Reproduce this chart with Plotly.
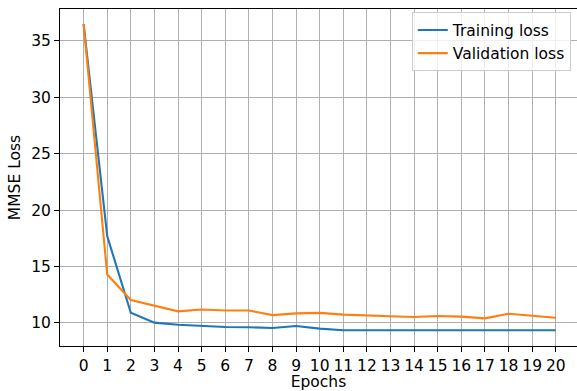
import plotly.graph_objects as go

epochs = list(range(21))
training_loss = [36.5, 17.7, 10.9, 10.03, 9.85, 9.73, 9.65, 9.62, 9.56, 9.73, 9.5,
                 9.35, 9.35, 9.35, 9.35, 9.35, 9.35, 9.35, 9.35, 9.35, 9.35]
validation_loss = [36.5, 14.3, 12.04, 11.56, 11.03, 11.2, 11.1, 11.1, 10.7, 10.85, 10.9,
                   10.74, 10.7, 10.6, 10.53, 10.62, 10.56, 10.41, 10.82, 10.62, 10.47]
y_ticks = [10, 15, 20, 25, 30, 35]

fig = go.Figure()
fig.add_trace(go.Scatter(x=epochs, y=training_loss, mode="lines", name="Training loss",
                         line=dict(color="#1f77b4", width=2.1)))
fig.add_trace(go.Scatter(x=epochs, y=validation_loss, mode="lines", name="Validation loss",
                         line=dict(color="#ff7f0e", width=2.1)))

font = dict(family="DejaVu Sans", size=15.5, color="black")
fig.update_layout(
    width=577, height=391,
    margin=dict(l=60, r=0, t=9, b=45, autoexpand=False),
    paper_bgcolor="white", plot_bgcolor="white",
    font=font,
    showlegend=True,
    legend=dict(x=0.988, y=0.99, xanchor="right", yanchor="top",
                bgcolor="rgba(255,255,255,0.8)", bordercolor="#cccccc", borderwidth=1,
                font=font, tracegroupgap=0),
    xaxis=dict(range=[-1, 20.9], tickmode="array", tickvals=epochs,
               ticktext=[str(e) for e in epochs], automargin=False,
               showgrid=True, gridcolor="#b0b0b0", gridwidth=1,
               showline=True, linecolor="black", linewidth=1, mirror=True,
               ticks="outside", ticklen=5, tickcolor="black", zeroline=False,
               title=dict(text="Epochs", font=font, standoff=4)),
    yaxis=dict(range=[7.96, 37.83], tickmode="array", tickvals=y_ticks,
               showgrid=True, gridcolor="#b0b0b0", gridwidth=1, automargin=False,
               showline=True, linecolor="black", linewidth=1, mirror=False,
               ticks="outside", ticklen=5, tickcolor="black", zeroline=False,
               title=dict(text="MMSE Loss", font=font, standoff=6)),
)
fig.write_html("out.html", config={"displayModeBar": False},
               post_script="document.body.style.margin='0';document.body.style.padding='0';")
